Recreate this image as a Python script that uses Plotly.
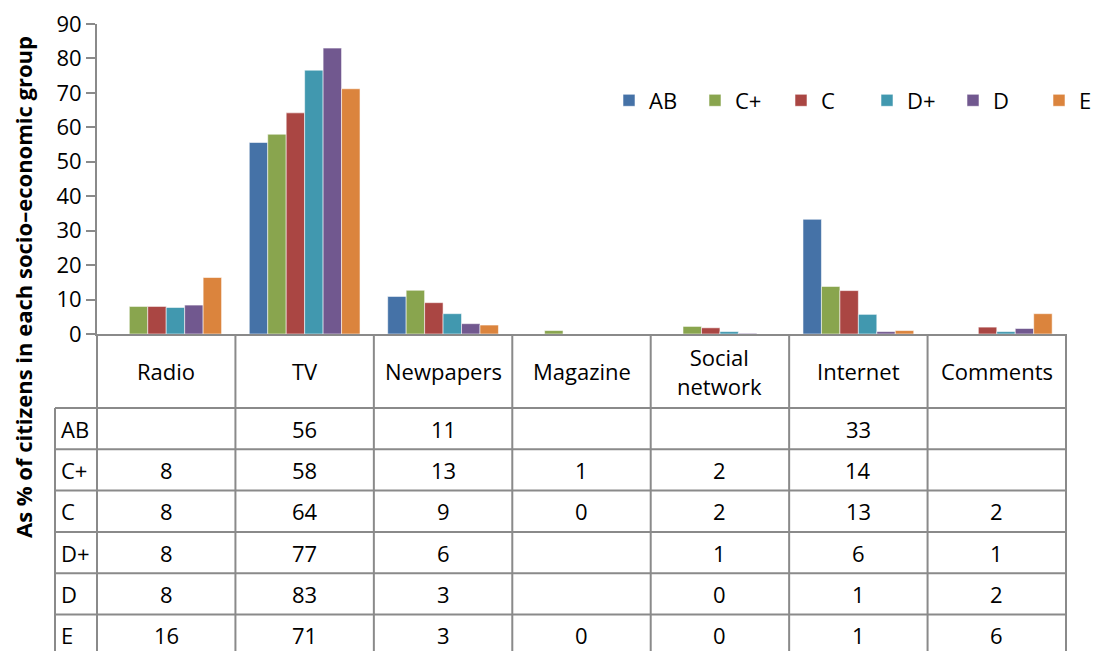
import plotly.graph_objects as go

# ---- data ----
categories = ["Radio", "TV", "Newpapers", "Magazine", "Social network", "Internet", "Comments"]
header_labels = ["Radio", "TV", "Newpapers", "Magazine", "Social<br>network", "Internet", "Comments"]
groups = ["AB", "C+", "C", "D+", "D", "E"]
ab = [None, 55.6, 10.9, None, None, 33.3, None]
c_plus = [8.0, 58.0, 12.7, 1.0, 2.2, 13.8, None]
c = [8.0, 64.2, 9.1, 0.0, 1.8, 12.6, 2.0]
d_plus = [7.7, 76.6, 5.9, None, 0.7, 5.7, 0.7]
d = [8.4, 83.0, 3.0, None, 0.2, 0.7, 1.6]
e = [16.4, 71.2, 2.6, 0.0, 0.0, 1.0, 5.9]
series = [ab, c_plus, c, d_plus, d, e]
colors = ["#4572A7", "#89A54E", "#AA4643", "#4198AF", "#71588F", "#DB843D"]
y_ticks = [0, 10, 20, 30, 40, 50, 60, 70, 80, 90]

FONT = "Open Sans"
OFF = 8                      # default page margin of the html body
W, H = 1099 - OFF, 651 - OFF
PLOT_L, PLOT_R, PLOT_T, PLOT_B = 97, 1066, 24, 334   # page pixels
L, T = PLOT_L - OFF, PLOT_T - OFF
R = W - (PLOT_R - OFF)
B = H - (PLOT_B - OFF)
PW = W - L - R
PH = H - T - B
LINE = "#8a8a8a"


def px_x(p):
    return (p - PLOT_L) / PW


def px_y(p):
    return (PLOT_B - p) / PH


def fmt(v):
    return "" if v is None else str(int(v + 0.5))


fig = go.Figure()
for name, vals, col in zip(groups, series, colors):
    fig.add_trace(go.Bar(
        x=categories, y=vals, name=name,
        marker=dict(color=col, line=dict(width=1, color="rgba(255,255,255,0.55)")),
    ))

# ---- data table under the chart ----
n = len(categories)
header_bottom = 408
row_h = 41.3
bottom = 665
label_left = 55

shapes = []
for i in range(n + 1):
    shapes.append(dict(type="line", xref="paper", yref="paper",
                       x0=i / n, x1=i / n, y0=0, y1=px_y(bottom),
                       line=dict(color=LINE, width=2)))
shapes.append(dict(type="line", xref="paper", yref="paper",
                   x0=px_x(label_left), x1=px_x(label_left),
                   y0=px_y(header_bottom), y1=px_y(bottom),
                   line=dict(color=LINE, width=2)))
for r in range(len(groups) + 1):
    yy = px_y(header_bottom + r * row_h)
    shapes.append(dict(type="line", xref="paper", yref="paper",
                       x0=px_x(label_left), x1=1, y0=yy, y1=yy,
                       line=dict(color=LINE, width=2)))

annotations = []
for i, lab in enumerate(header_labels):
    annotations.append(dict(text=lab, xref="paper", yref="paper",
                            x=(i + 0.5) / n, y=px_y((PLOT_B + header_bottom) / 2),
                            xanchor="center", yanchor="middle", showarrow=False,
                            font=dict(family=FONT, size=22, color="#000")))
for r, (g, vals) in enumerate(zip(groups, series)):
    yc = px_y(header_bottom + (r + 0.5) * row_h)
    annotations.append(dict(text=g, xref="paper", yref="paper",
                            x=px_x(59), y=yc, xanchor="left", yanchor="middle",
                            showarrow=False, font=dict(family=FONT, size=22, color="#000")))
    for i, v in enumerate(vals):
        t = fmt(v)
        if t:
            annotations.append(dict(text=t, xref="paper", yref="paper",
                                    x=(i + 0.5) / n, y=yc, xanchor="center", yanchor="middle",
                                    showarrow=False, font=dict(family=FONT, size=22, color="#000")))

annotations.append(dict(text="<b>As % of citizens in each socio–economic group</b>",
                        xref="paper", yref="paper", x=px_x(23), y=px_y(287),
                        xanchor="center", yanchor="middle", textangle=-90, showarrow=False,
                        font=dict(family=FONT, size=22, color="#000")))

fig.update_layout(
    width=W, height=H,
    margin=dict(l=L, r=R, t=T, b=B, pad=0, autoexpand=False),
    paper_bgcolor="white", plot_bgcolor="white",
    barmode="group", bargap=0.2, bargroupgap=0,
    font=dict(family=FONT, size=22, color="#000"),
    showlegend=True,
    legend=dict(orientation="h", x=px_x(609), y=px_y(100.5), xanchor="left", yanchor="middle",
                font=dict(family=FONT, size=22, color="#000"),
                bgcolor="rgba(0,0,0,0)", entrywidth=41, entrywidthmode="pixels",
                itemwidth=30, traceorder="normal"),
    xaxis=dict(range=[-0.5, n - 0.5], showticklabels=False, ticks="",
               showline=True, linecolor=LINE, linewidth=2, showgrid=False, zeroline=False),
    yaxis=dict(range=[0, 90], tickvals=y_ticks, ticks="outside", ticklen=9, tickwidth=2,
               tickcolor=LINE, showline=True, linecolor=LINE, linewidth=2,
               showgrid=False, zeroline=False, ticksuffix="\u00a0\u00a0",
               ticklabeloverflow="allow",
               tickfont=dict(family=FONT, size=22, color="#000")),
    shapes=shapes,
    annotations=annotations,
)

fig.write_html("out.html")
